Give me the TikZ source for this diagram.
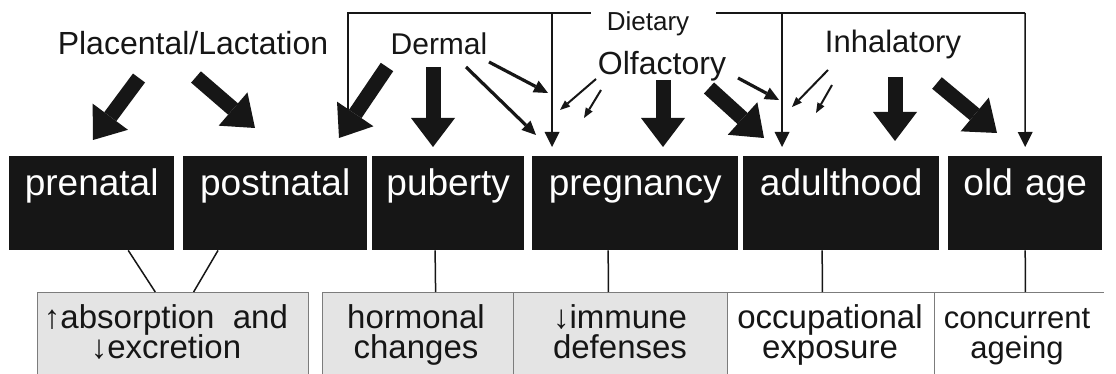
\documentclass[tikz,border=0pt]{standalone}
\usepackage{fontspec}
\setmainfont{Liberation Sans}
\usetikzlibrary{arrows.meta,calc}
\definecolor{ink}{HTML}{161616}
\definecolor{lightbox}{HTML}{E4E4E4}
\definecolor{boxline}{HTML}{7C7C7C}
\newcommand\twoline[2]{\vtop{\lineskiplimit=-100pt\relax\halign{\hfil##\hfil\cr#1\cr#2\cr}}}
\begin{document}
\begin{tikzpicture}[x=1pt,y=-1pt,
  agebox/.style={fill=ink, text=white, inner sep=0pt, anchor=north west, align=center,
    font=\fontsize{37}{40}\selectfont, text height=39pt, text depth=55pt},
  effbox/.style={draw=boxline, line width=0.9pt, anchor=north west,
    minimum height=90pt, inner sep=0pt},
  efftext/.style={anchor=base, inner sep=0pt, text=ink, font=\fontsize{33}{30}\selectfont},
  toplab/.style={anchor=base, inner sep=0pt, text=ink},
  link/.style={draw=ink, line width=1.5pt},
  bigarrow/.style={draw=ink, line width=15pt, -{Triangle[length=29pt,width=44pt,line width=0pt]}},
  midarrow/.style={draw=ink, line width=3.2pt, -{Triangle[length=14pt,width=13pt,line width=0pt]}},
  thinarrow/.style={draw=ink, line width=2pt, -{Triangle[length=10pt,width=8pt,line width=0pt]}},
  dietline/.style={draw=ink, line width=1.5pt},
  dietarrow/.style={dietline, -{Triangle[length=15pt,width=15pt,line width=0pt]}}
]
\useasboundingbox (0,0) rectangle (1116,374);
\clip (0,0) rectangle (1116,374);
\fill[white] (0,0) rectangle (1116,374);

% life stages
\node[agebox, text width=165pt] (pre)   at (9,156)   {prenatal};
\node[agebox, text width=184pt] (post)  at (183,156) {postnatal};
\node[agebox, text width=152pt] (pub)   at (372,156) {puberty};
\node[agebox, text width=206pt] (preg)  at (532,156) {pregnancy};
\node[agebox, text width=196pt] (adult) at (743,156) {adulthood};
\node[agebox, text width=154pt] (old)   at (948,156) {old age};

% effect boxes
\node[effbox, fill=white, draw=none, minimum width=169pt] (ef5) at (934,292) {};
\node[effbox, fill=lightbox, minimum width=271pt] (ef1) at (37,292)  {};
\node[effbox, fill=lightbox, minimum width=191pt] (ef2) at (322,292) {};
\node[effbox, fill=lightbox, minimum width=214pt] (ef3) at (513,292) {};
\node[effbox, fill=white,    minimum width=207pt] (ef4) at (727,292) {};
\draw[boxline, line width=0.9pt] (ef5.north west) -- (ef5.north east);

\node[efftext] (ef1t) at (166,328) {\twoline{↑absorption\ \ and}{↓excretion}};
\node[efftext] (ef2t) at (416,328) {\twoline{hormonal}{changes}};
\node[efftext] (ef3t) at (620,328) {\twoline{↓immune}{defenses}};
\node[efftext] (ef4t) at (830,328) {\twoline{occupational}{exposure}};
\node[efftext, font=\fontsize{31}{30}\selectfont] (ef5t) at (1017,328) {\twoline{concurrent}{ageing}};

% links stage -> effect
\draw[link] ($(pre.south west)!0.721!(pre.south east)$) -- ($(ef1.north west)!0.435!(ef1.north east)$);
\draw[link] ($(post.south west)!0.19!(post.south east)$) -- ($(ef1.north west)!0.576!(ef1.north east)$);
\draw[link] ($(pub.south west)!0.414!(pub.south east)$) -- ($(ef2.north west)!0.592!(ef2.north east)$);
\draw[link] ($(preg.south west)!0.369!(preg.south east)$) -- ($(ef3.north west)!0.444!(ef3.north east)$);
\draw[link] ($(adult.south west)!0.403!(adult.south east)$) -- ($(ef4.north west)!0.459!(ef4.north east)$);
\draw[link] (old.south) -- ($(ef5.north west)!0.538!(ef5.north east)$);

% route labels
\node[toplab, font=\fontsize{32}{36}\selectfont] (plac) at (193,55) {Placental/Lactation};
\node[toplab, font=\fontsize{30}{36}\selectfont] (derm) at (439,55) {Dermal};
\node[toplab, font=\fontsize{26}{30}\selectfont, inner xsep=16pt] (diet) at (648,31) {Dietary};
\node[toplab, font=\fontsize{32}{36}\selectfont] (olf) at (662,75) {Olfactory};
\node[toplab, font=\fontsize{31}{36}\selectfont] (inh) at (893,53) {Inhalatory};

% dietary lines
\coordinate (dl)  at (348,110);
\coordinate (dtl) at (348,13);
\coordinate (dtr) at (1025,13);
\coordinate (dp) at ($(preg.north west)!0.097!(preg.north east)+(0,-9)$);
\coordinate (da) at ($(adult.north west)!0.199!(adult.north east)+(0,-9)$);
\coordinate (do) at ($(old.north)+(0,-9)$);
\draw[dietline] (dl) -- (dtl) -- (diet.west |- dtl);
\draw[dietline] ([xshift=11pt]diet.east |- dtl) -- (dtr);
\draw[dietarrow] (dtr) -- (do);
\draw[dietarrow] (dp |- dtl) -- (dp);
\draw[dietarrow] (da |- dtl) -- (da);

% big arrows
\coordinate (p1s) at (139,78);  \coordinate (p1e) at (93,140);
\coordinate (p2s) at (196,77);  \coordinate (p2e) at (255,128);
\coordinate (d1s) at (387,67);  \coordinate (d1e) at (339,138);
\coordinate (d2s) at (433,67);  \coordinate (d2e) at (433,147);
\coordinate (o1s) at (663,80);  \coordinate (o1e) at (663,147);
\coordinate (o2s) at (709,88);  \coordinate (o2e) at (764,138);
\coordinate (i1s) at (895,77);  \coordinate (i1e) at (895,141);
\coordinate (i2s) at (937,83);  \coordinate (i2e) at (997,133);
\draw[bigarrow] (p1s) -- (p1e);
\draw[bigarrow] (p2s) -- (p2e);
\draw[bigarrow] (d1s) -- (d1e);
\draw[bigarrow] (d2s) -- (d2e);
\draw[bigarrow] (o1s) -- (o1e);
\draw[bigarrow] (o2s) -- (o2e);
\draw[bigarrow] (i1s) -- (i1e);
\draw[bigarrow] (i2s) -- (i2e);

% medium arrows
\coordinate (d3s) at (466,67);  \coordinate (d3e) at (536,135);
\coordinate (d4s) at (489,62);  \coordinate (d4e) at (548,93);
\coordinate (o3s) at (738,78);  \coordinate (o3e) at (779,100);
\draw[midarrow] (d3s) -- (d3e);
\draw[midarrow] (d4s) -- (d4e);
\draw[midarrow] (o3s) -- (o3e);

% thin arrows
\coordinate (o4s) at (596,79);  \coordinate (o4e) at (560,110);
\coordinate (o5s) at (601,90);  \coordinate (o5e) at (584,118);
\coordinate (i3s) at (828,70);  \coordinate (i3e) at (792,107);
\coordinate (i4s) at (832,85);  \coordinate (i4e) at (816,113);
\draw[thinarrow] (o4s) -- (o4e);
\draw[thinarrow] (o5s) -- (o5e);
\draw[thinarrow] (i3s) -- (i3e);
\draw[thinarrow] (i4s) -- (i4e);
\end{tikzpicture}
\end{document}
